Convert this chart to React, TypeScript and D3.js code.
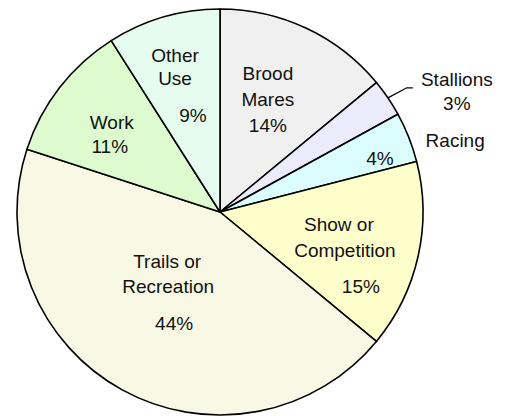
import * as d3 from "d3"

// ---- data ----
const categories = ["Brood Mares", "Stallions", "Racing", "Show or Competition", "Trails or Recreation", "Work", "Other Use"]
const shares = [14, 3, 4, 15, 44, 11, 9]
const valueLabels = ["14%", "3%", "4%", "15%", "44%", "11%", "9%"]

const colors = ["#F0F0F0", "#EBEBFC", "#DBFDFD", "#FFFFCC", "#F8F8E4", "#DDFBCF", "#E6FCEE"]

// label layout per slice: lines of text, anchor radius (fraction of r) and nudges
const labelLayout = [
  { lines: [["Brood", 0, -26], ["Mares", 0, 0], ["14%", 0, 26]], rf: 0.6, dx: -4, dy: 4 },
  { lines: [["Stallions", 0, 0], ["3%", 0, 24]], rf: 1.22, dx: 32, dy: 13 },
  { lines: [["Racing", 0, 0]], rf: 1.14, dx: 20, dy: 20 },
  { lines: [["Show or", -6, -26], ["Competition", 0, 0], ["15%", 16, 36]], rf: 0.6, dx: 6, dy: 18 },
  { lines: [["Trails or", 0, -25], ["Recreation", 1, 0], ["44%", 7, 37]], rf: 0.5, dx: -4, dy: -8 },
  { lines: [["Work", 2, -12], ["11%", 0, 12]], rf: 0.6, dx: -14, dy: 4 },
  { lines: [["Other", -10, -30], ["Use", -10, -7], ["9%", 8, 30]], rf: 0.6, dx: -1, dy: -3 },
]

export default function App() {
  const width = 507
  const height = 416
  const cx = 220
  const cy = 212
  const r = 203

  const pie = d3.pie<number>().sort(null).value(d => d)
  const arcs = pie(shares)
  const arc = d3.arc<d3.PieArcDatum<number>>().innerRadius(0).outerRadius(r)

  const fontFamily = "'Liberation Sans', Arial, sans-serif"
  const fontSize = 19

  // small percentage inside the racing slice
  const racingIn = d3.arc<d3.PieArcDatum<number>>().innerRadius(r * 0.8).outerRadius(r * 0.8).centroid(arcs[2])

  // leader line for stallions
  const mid = (arcs[1].startAngle + arcs[1].endAngle) / 2
  const p0 = [Math.sin(mid) * r, -Math.cos(mid) * r]
  const p1 = [Math.sin(mid) * (r + 18) + 4, -Math.cos(mid) * (r + 18)]
  const p2 = [p1[0] + 6, p1[1]]

  return (
    <svg width={width} height={height} style={{ position: "absolute", left: 0, top: 0, background: "#fff" }}>
      <g transform={`translate(${cx},${cy})`}>
        {arcs.map((a, i) => (
          <path key={categories[i]} d={arc(a) || ""} fill={colors[i]} stroke="#000" strokeWidth={1.6} strokeLinejoin="round" />
        ))}
        <polyline points={[p0, p1, p2].map(p => p.join(",")).join(" ")} fill="none" stroke="#000" strokeWidth={1.3} />
        {arcs.map((a, i) => {
          const L = labelLayout[i]
          const m = (a.startAngle + a.endAngle) / 2
          const x = Math.sin(m) * r * L.rf + L.dx
          const y = -Math.cos(m) * r * L.rf + L.dy
          return (
            <g key={"l" + i} transform={`translate(${x},${y})`} fontFamily={fontFamily} fontSize={fontSize} fill="#111" textAnchor="middle">
              {L.lines.map(([t, ox, oy]) => (
                <text key={t as string} x={ox as number} y={oy as number}>{t}</text>
              ))}
            </g>
          )
        })}
        <text x={racingIn[0] + 9} y={racingIn[1] + 13} fontFamily={fontFamily} fontSize={fontSize} fill="#111" textAnchor="middle">{valueLabels[2]}</text>
      </g>
    </svg>
  )
}
